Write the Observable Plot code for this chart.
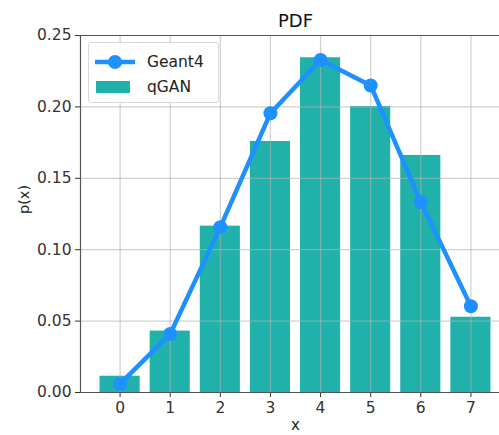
<!DOCTYPE html>
<html><head><meta charset="utf-8">
<script src="https://cdn.jsdelivr.net/npm/d3@7"></script>
<script src="https://cdn.jsdelivr.net/npm/@observablehq/plot@0.6"></script>
<style>
body{margin:0;background:#fff;font-family:"DejaVu Sans",sans-serif;}
#wrap{position:relative;width:499px;height:435px;overflow:hidden;}
#legend{position:absolute;left:88px;top:42px;width:129px;height:59px;border:1px solid #d8d8d8;border-radius:3px;background:rgba(255,255,255,0.85);font-size:15.5px;color:#222;}
#legend .row{position:absolute;left:0;display:flex;align-items:center;}
</style></head><body>
<div id="wrap"></div>
<script>
const xs = [0, 1, 2, 3, 4, 5, 6, 7];
const qgan = [0.0114, 0.043, 0.1165, 0.1758, 0.2344, 0.2003, 0.166, 0.0527];
const geant4 = [0.006, 0.041, 0.1158, 0.1956, 0.2329, 0.215, 0.1333, 0.0604];
const yTicks = [0, 0.05, 0.10, 0.15, 0.20, 0.25];
const seriesNames = ["Geant4", "qGAN"];
const colors = {Geant4: "#1E90FF", qGAN: "#20B2AA"};

const data = xs.map((x, i) => ({x, q: qgan[i], g: geant4[i]}));

const plot = Plot.plot({
  width: 499, height: 435,
  marginLeft: 80, marginTop: 35, marginBottom: 43, marginRight: 0,
  style: {fontFamily: "DejaVu Sans", fontSize: "15.5px", color: "#333", background: "#fff"},
  x: {domain: [-0.79, 7.79], range: [80, 510], ticks: xs, tickFormat: d3.format("d"), tickSize: 5, tickPadding: 4, label: null},
  y: {domain: [0, 0.25], ticks: yTicks, tickFormat: d3.format(".2f"), tickSize: 5, tickPadding: 4, label: null},
  marks: [
    Plot.rectY(data, {x1: d => d.x - 0.4, x2: d => d.x + 0.4, y: "q", fill: colors.qGAN}),
    Plot.gridX(xs, {stroke: "#b0b0b0", strokeOpacity: 0.6, strokeWidth: 1.2}),
    Plot.gridY(yTicks, {stroke: "#b0b0b0", strokeOpacity: 0.6, strokeWidth: 1.2}),
    Plot.ruleY([0.25], {stroke: "#555", strokeWidth: 1.2}),
    Plot.ruleY([0], {stroke: "#555", strokeWidth: 1.2}),
    Plot.ruleX([-0.79], {stroke: "#555", strokeWidth: 1.2}),
    Plot.line(data, {x: "x", y: "g", stroke: colors.Geant4, strokeWidth: 4.5}),
    Plot.dot(data, {x: "x", y: "g", r: 7, fill: colors.Geant4}),
    Plot.text(["PDF"], {x: () => 3.5, frameAnchor: "top", dy: -14, lineAnchor: "middle", fontSize: 18, fill: "#111"}),
    Plot.text(["x"], {x: () => 3.5, frameAnchor: "bottom", dy: 33, lineAnchor: "middle", fontSize: 15, fill: "#222"}),
    Plot.text(["p(x)"], {frameAnchor: "left", dx: -56, rotate: -90, lineAnchor: "middle", fontSize: 14.5, fill: "#222"})
  ]
});
document.getElementById("wrap").appendChild(plot);

const legend = document.createElement("div");
legend.id = "legend";
legend.innerHTML = `
<div class="row" style="top:8px;left:4px;">
  <svg width="44" height="22"><line x1="2" y1="11" x2="42" y2="11" stroke="${colors.Geant4}" stroke-width="4.5"/><circle cx="22" cy="11" r="7" fill="${colors.Geant4}"/></svg>
  <span style="margin-left:10px">${seriesNames[0]}</span></div>
<div class="row" style="top:33px;left:7px;">
  <svg width="38" height="22"><rect x="0" y="5" width="34" height="12" fill="${colors.qGAN}"/></svg>
  <span style="margin-left:13px">${seriesNames[1]}</span></div>`;
document.getElementById("wrap").appendChild(legend);
</script>
</body></html>
